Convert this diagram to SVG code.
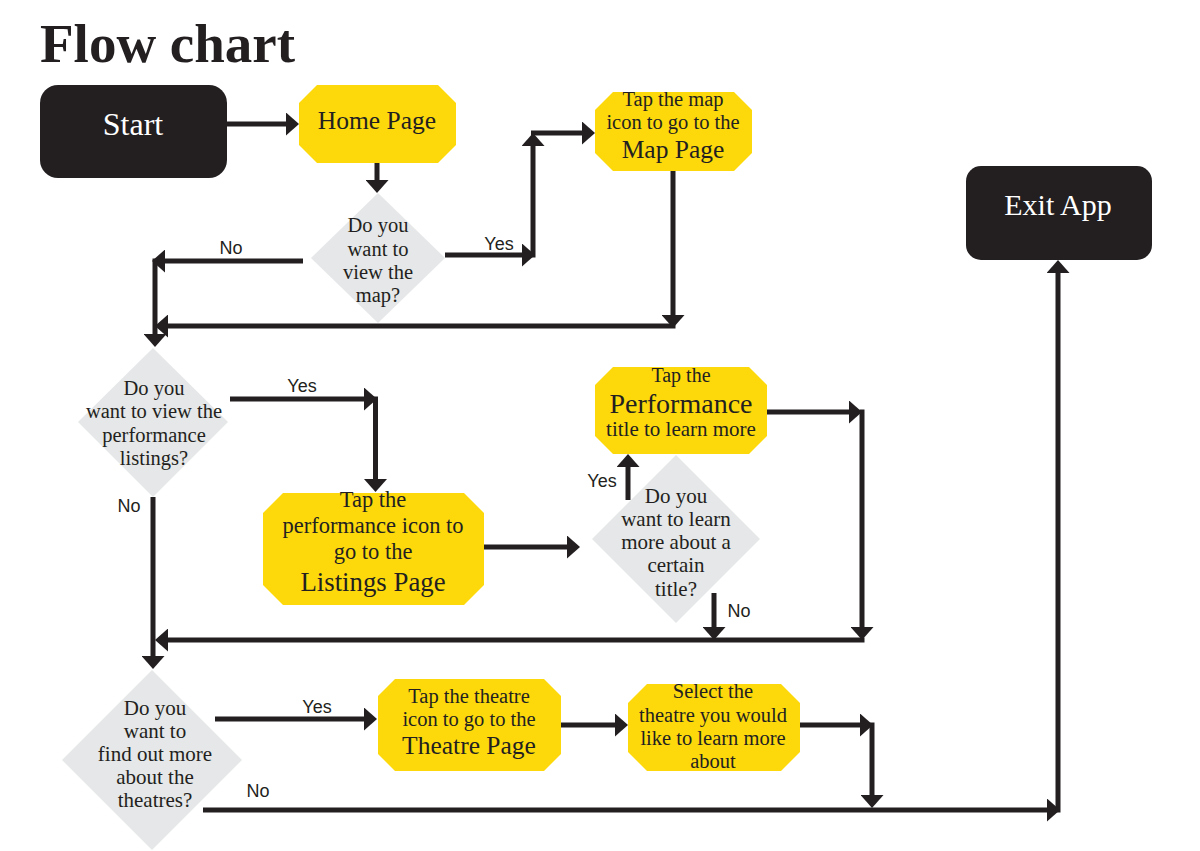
<svg xmlns="http://www.w3.org/2000/svg" width="1200" height="851" viewBox="0 0 1200 851">
<style>
.term{fill:#231f20}
.proc{fill:#fdd90c}
.dec{fill:#e6e7e8}
.t{font-family:"Liberation Serif","Times New Roman",serif;fill:#231f20;text-anchor:middle;font-size:20.5px}
.tw{font-family:"Liberation Serif","Times New Roman",serif;fill:#ffffff;text-anchor:middle}
.big{font-size:25.5px}
.lbl{font-family:"Liberation Sans",Arial,sans-serif;font-size:18px;fill:#231f20;text-anchor:middle}
.c{fill:none;stroke:#231f20;stroke-width:5;marker-end:url(#ah)}
</style>
<defs>
<marker id="ah" markerUnits="userSpaceOnUse" markerWidth="13" markerHeight="23" refX="9" refY="11.5" orient="auto">
<path d="M0,0 L13,11.5 L0,23 Z" fill="#231f20"/>
</marker>
</defs>
<rect width="1200" height="851" fill="#ffffff"/>
<text x="40" y="62" style="font-family:'Liberation Serif','Times New Roman',serif;font-weight:bold;font-size:55px;fill:#231f20">Flow chart</text>

<g id="start">
<rect class="term" x="40" y="85" width="187" height="93" rx="18"/>
<text class="tw" x="133" y="135" style="font-size:32px">Start</text>
</g>
<g id="home">
<polygon class="proc" points="317,85 438,85 456,103 456,145 438,163 317,163 299,145 299,103"/>
<text class="t big" x="377" y="129">Home Page</text>
</g>
<g id="q-map">
<polygon class="dec" points="378,193 445,258 378,323 311,258"/>
<text class="t" x="378" y="232">Do you</text>
<text class="t" x="378" y="256">want to</text>
<text class="t" x="378" y="279">view the</text>
<text class="t" x="378" y="302">map?</text>
</g>
<g id="map">
<polygon class="proc" points="613,92 734,92 752,110 752,153 734,171 613,171 595,153 595,110"/>
<text class="t" x="673" y="106">Tap the map</text>
<text class="t" x="673" y="129">icon to go to the</text>
<text class="t big" x="673" y="158">Map Page</text>
</g>
<g id="exit">
<rect class="term" x="966" y="166" width="186" height="94" rx="15"/>
<text class="tw" x="1058" y="215" style="font-size:30px">Exit App</text>
</g>
<g id="q-listings">
<polygon class="dec" points="153,348 228,422 153,497 78,422"/>
<text class="t" x="154" y="395">Do you</text>
<text class="t" x="154" y="418">want to view the</text>
<text class="t" x="154" y="442">performance</text>
<text class="t" x="154" y="465">listings?</text>
</g>
<g id="listings">
<polygon class="proc" points="283,493 464,493 484,513 484,585 464,605 283,605 263,585 263,513"/>
<text class="t" x="373" y="507" style="font-size:22.5px">Tap the</text>
<text class="t" x="373" y="533" style="font-size:22.5px">performance icon to</text>
<text class="t" x="373" y="559" style="font-size:22.5px">go to the</text>
<text class="t" x="373" y="591" style="font-size:26.8px">Listings Page</text>
</g>
<g id="performance">
<polygon class="proc" points="613,367 749,367 767,385 767,436 749,454 613,454 595,436 595,385"/>
<text class="t" x="681" y="382" style="font-size:20px">Tap the</text>
<text class="t" x="681" y="413" style="font-size:28px">Performance</text>
<text class="t" x="681" y="436" style="font-size:21px">title to learn more</text>
</g>
<g id="q-title">
<polygon class="dec" points="676,455 760,539 676,623 592,539"/>
<text class="t" x="676" y="503" style="font-size:21px">Do you</text>
<text class="t" x="676" y="526" style="font-size:21px">want to learn</text>
<text class="t" x="676" y="549" style="font-size:21px">more about a</text>
<text class="t" x="676" y="572" style="font-size:21px">certain</text>
<text class="t" x="676" y="596" style="font-size:21px">title?</text>
</g>
<g id="q-theatres">
<polygon class="dec" points="152,670 242,760 152,850 62,760"/>
<text class="t" x="155" y="715" style="font-size:21px">Do you</text>
<text class="t" x="155" y="738" style="font-size:21px">want to</text>
<text class="t" x="155" y="761" style="font-size:21px">find out more</text>
<text class="t" x="155" y="784" style="font-size:21px">about the</text>
<text class="t" x="155" y="807" style="font-size:21px">theatres?</text>
</g>
<g id="theatre">
<polygon class="proc" points="395,679 544,679 561,696 561,754 544,771 395,771 378,754 378,696"/>
<text class="t" x="469" y="703">Tap the theatre</text>
<text class="t" x="469" y="726">icon to go to the</text>
<text class="t big" x="469" y="754">Theatre Page</text>
</g>
<g id="select">
<polygon class="proc" points="647,684 781,684 800,703 800,752 781,771 647,771 628,752 628,703"/>
<text class="t" x="713" y="698">Select the</text>
<text class="t" x="713" y="722">theatre you would</text>
<text class="t" x="713" y="745">like to learn more</text>
<text class="t" x="713" y="768">about</text>
</g>

<g id="connectors">
<path class="c" d="M227 124 H295"/>
<path class="c" d="M377 163 V189"/>
<path class="c" d="M445 255 H531"/>
<path class="c" d="M533 257.5 V137"/>
<path class="c" d="M531 133 H591"/>
<path class="c" d="M303 261 H156"/>
<path class="c" d="M155 258.5 V343"/>
<path class="c" d="M673 171 V324"/>
<path class="c" d="M675.5 326 H159"/>
<path class="c" d="M230 399 H373"/>
<path class="c" d="M375.5 396.5 V488"/>
<path class="c" d="M153 497 V665"/>
<path class="c" d="M864.5 640 H159"/>
<path class="c" d="M767 412 H858"/>
<path class="c" d="M862 409.5 V636"/>
<path class="c" d="M714 593 V636"/>
<path class="c" d="M628 500 V458"/>
<path class="c" d="M484 547 H576"/>
<path class="c" d="M215 719 H373"/>
<path class="c" d="M561 725 H624"/>
<path class="c" d="M800 725 H869"/>
<path class="c" d="M872 722.5 V804"/>
<path class="c" d="M203 810 H1056"/>
<path class="c" d="M1058 812.5 V264"/>
</g>
<g id="labels">
<text class="lbl" x="231" y="254">No</text>
<text class="lbl" x="499" y="250">Yes</text>
<text class="lbl" x="302" y="392">Yes</text>
<text class="lbl" x="129" y="512">No</text>
<text class="lbl" x="602" y="487">Yes</text>
<text class="lbl" x="739" y="617">No</text>
<text class="lbl" x="317" y="713">Yes</text>
<text class="lbl" x="258" y="797">No</text>
</g>
</svg>
